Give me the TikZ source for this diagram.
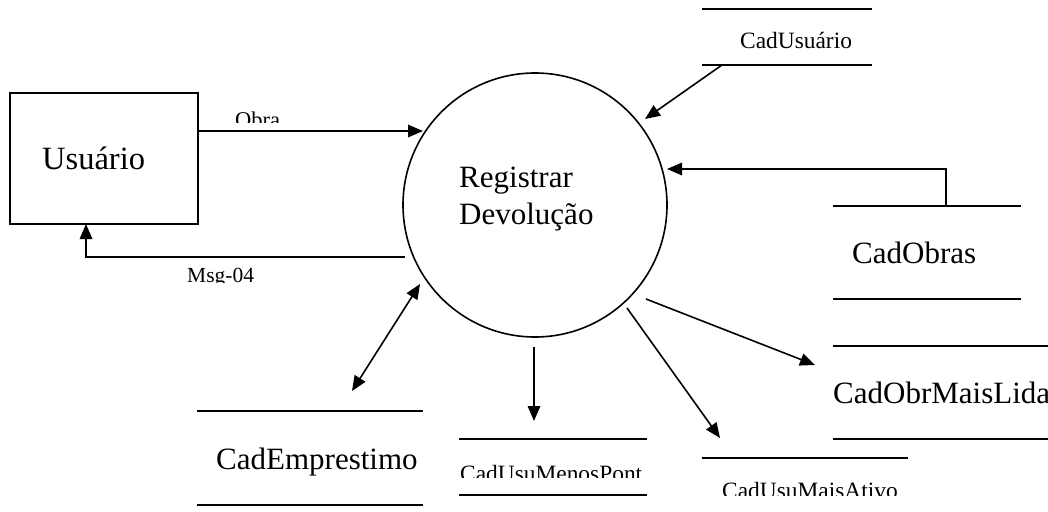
\documentclass[tikz,border=0pt]{standalone}
\usepackage{fontspec}
\setmainfont{Liberation Serif}
\usetikzlibrary{arrows.meta}

\tikzset{
  flow/.style={line width=1.6pt, -{Triangle[length=15pt,width=12.5pt]}},
  bothflow/.style={line width=1.6pt, {Triangle[length=15pt,width=12.5pt]}-{Triangle[length=15pt,width=12.5pt]}},
  storeline/.style={line width=1.9pt},
  big/.style={font=\fontsize{31}{36}\selectfont, inner sep=0pt, anchor=base west},
  small/.style={font=\fontsize{23.4}{27}\selectfont, inner sep=0pt, anchor=base west},
}

\begin{document}
\begin{tikzpicture}[x=1pt,y=-1pt]
\useasboundingbox[fill=white] (0,0) rectangle (1048,511);

% external entity
\node[draw, line width=1.9pt, minimum width=188pt, minimum height=131pt, inner sep=0pt] (usr) at (104,158.5) {};
\node[big, font=\fontsize{32.5}{37}\selectfont] (usrtxt) at (42,169) {Usuário};

% process
\node[circle, draw, line width=1.6pt, minimum size=264pt, inner sep=0pt] (proc) at (535,205) {};
\node[big] (proctxt1) at (459,187) {Registrar};
\node[big] (proctxt2) at (459,224) {Devolução};

% data stores
\draw[storeline] (702,9) -- (872,9) (702,65) -- (872,65);
\begin{scope}
  \clip (700,20) rectangle (880,48.5);
  \node[small] (cadusu) at (740,48.5) {CadUsuário};
\end{scope}

\draw[storeline] (833,206) -- (1021,206) (833,299) -- (1021,299);
\node[big] (cadobras) at (852,263) {CadObras};

\draw[storeline] (833,346) -- (1048,346) (833,439) -- (1048,439);
\node[big] (cadobrml) at (833,403) {CadObrMaisLida};

\draw[storeline] (197,411) -- (423,411) (197,505) -- (423,505);
\node[big] (cademp) at (216,469) {CadEmprestimo};

\draw[storeline] (459,439) -- (647,439) (459,495) -- (647,495);
\begin{scope}
  \clip (455,450) rectangle (650,477);
  \node[small] (cadmenos) at (460,481.5) {CadUsuMenosPont};
\end{scope}

\draw[storeline] (702,458) -- (908,458);
\begin{scope}
  \clip (700,470) rectangle (910,495);
  \node[small] (cadativo) at (722,498) {CadUsuMaisAtivo};
\end{scope}

% flow labels
\begin{scope}
  \clip (220,100) rectangle (300,122);
  \node[small, font=\fontsize{22.5}{26}\selectfont] (lobra) at (235,127) {Obra};
\end{scope}
\begin{scope}
  \clip (170,260) rectangle (270,282);
  \node[small, font=\fontsize{21.5}{25}\selectfont] (lmsg) at (187,282) {Msg-04};
\end{scope}

% connector end points
\coordinate (obraS) at (198,131);
\coordinate (obraE) at (423,131);
\coordinate (msgS) at (405,257);
\coordinate (msgB) at (86,257);
\coordinate (msgE) at (86,224);
\coordinate (usuS) at (722,65);
\coordinate (usuE) at (645,119);
\coordinate (obrS) at (946,206);
\coordinate (obrB) at (946,169);
\coordinate (obrE) at (667,169);
\coordinate (empA) at (352,391);
\coordinate (empB) at (420,284);
\coordinate (menS) at (534,347);
\coordinate (menE) at (534,421);
\coordinate (atvS) at (627,308);
\coordinate (atvE) at (720,438);
\coordinate (mlS) at (646,299);
\coordinate (mlE) at (815,365);

% flows
\draw[flow] (obraS) -- (obraE);
\draw[flow] (msgS) -- (msgB) -- (msgE);
\draw[flow] (usuS) -- (usuE);
\draw[flow] (obrS) -- (obrB) -- (obrE);
\draw[bothflow] (empA) -- (empB);
\draw[flow] (menS) -- (menE);
\draw[flow] (atvS) -- (atvE);
\draw[flow] (mlS) -- (mlE);
\end{tikzpicture}
\end{document}
